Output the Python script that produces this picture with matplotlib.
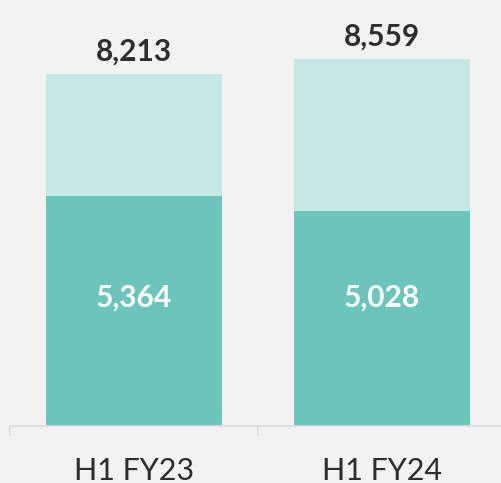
import matplotlib
matplotlib.use("Agg")
import matplotlib.pyplot as plt
import numpy as np

categories = ["H1 FY23", "H1 FY24"]
bottom_vals = [5364, 5028]
totals = [8213, 8559]

BG = "#f2f2f2"
DARK = "#6cc5bb"
LIGHT = "#c5e8e5"
TXT = "#2e2e2e"
AXIS = "#dcdcdc"

plt.rcParams["font.family"] = ["Lato", "DejaVu Sans"]

fig = plt.figure(figsize=(5.02, 4.83), dpi=100, facecolor=BG)
ax = fig.add_axes([10 / 502, 57 / 483, 492 / 502, 426 / 483])
ax.set_facecolor(BG)

x = np.arange(len(categories))
top_vals = [t - b for t, b in zip(totals, bottom_vals)]
ax.bar(x, bottom_vals, width=0.71, color=DARK, zorder=2)
ax.bar(x, top_vals, bottom=bottom_vals, width=0.71, color=LIGHT, zorder=2)

for xi, b, t in zip(x, bottom_vals, totals):
    ax.text(xi, 3000, f"{b:,}", ha="center", va="center", color="white",
            fontsize=21.5, fontweight="bold")
    ax.annotate(f"{t:,}", (xi, t), xytext=(0, 6), textcoords="offset points",
                ha="center", va="bottom", color=TXT, fontsize=21.5, fontweight="bold")

ax.set_xlim(-0.5, 1.5 - 4 / 248)
ax.set_ylim(0, 9940)

for s in ["top", "right", "left"]:
    ax.spines[s].set_visible(False)
ax.spines["bottom"].set_color(AXIS)
ax.spines["bottom"].set_linewidth(1.3)
ax.set_yticks([])
ax.set_xticks(x)
ax.set_xticklabels(categories, fontsize=22, color=TXT)
ax.tick_params(axis="x", which="major", length=0, pad=22)
ax.set_xticks([-0.5, 0.5], minor=True)
ax.tick_params(axis="x", which="minor", length=7, width=1.3, color=AXIS)

fig.savefig("out.png", dpi=100, facecolor=BG)
